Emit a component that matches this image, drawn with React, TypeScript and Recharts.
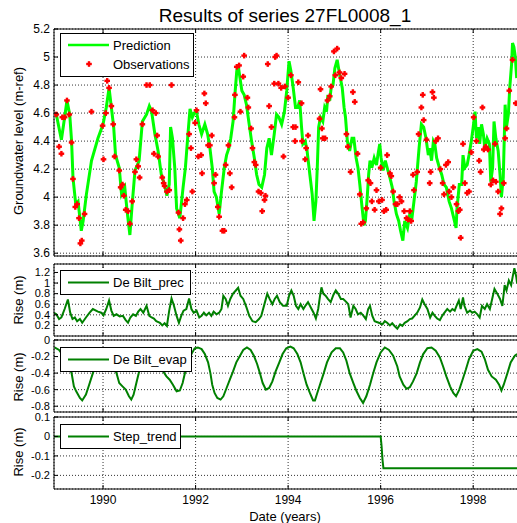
import React from 'react';
import { ComposedChart, Line, Scatter, XAxis, YAxis, CartesianGrid } from 'recharts';

const FONT = '"Liberation Sans", Arial, Helvetica, sans-serif';

// ---------- data ----------
const yearTicks = [1990, 1992, 1994, 1996, 1998];
const xDomain: [number, number] = [1988.94, 1998.99];

const headTicks = [3.6, 3.8, 4, 4.2, 4.4, 4.6, 4.8, 5, 5.2];
const precTicks = [0.2, 0.4, 0.6, 0.8, 1, 1.2];
const evapTicks = [-0.8, -0.6, -0.4, -0.2, 0];
const stepTicks = [-0.2, -0.1, 0, 0.1];

const prediction: [number, number][] = [
  [1988.99,4.59],[1989.10,4.41],[1989.17,4.57],[1989.22,4.69],[1989.28,4.59],[1989.32,4.40],[1989.35,4.14],[1989.41,3.95],[1989.46,3.97],[1989.53,3.76],[1989.57,3.83],[1989.64,4.02],[1989.75,4.26],[1989.89,4.42],[1990.00,4.52],[1990.07,4.64],[1990.13,4.78],[1990.18,4.64],[1990.23,4.50],[1990.27,4.30],[1990.35,4.21],[1990.40,4.02],[1990.47,4.07],[1990.52,3.90],[1990.58,3.73],[1990.63,3.95],[1990.69,4.19],[1990.78,4.26],[1990.85,4.54],[1990.94,4.59],[1991.00,4.65],[1991.05,4.61],[1991.12,4.45],[1991.19,4.33],[1991.26,4.16],[1991.33,4.09],[1991.38,4.01],[1991.43,4.09],[1991.46,4.50],[1991.50,4.42],[1991.55,4.21],
  [1991.59,3.92],[1991.66,3.85],[1991.73,4.07],[1991.78,4.21],[1991.84,4.47],[1991.88,4.63],[1991.93,4.57],[1991.97,4.60],[1992.02,4.61],[1992.07,4.52],[1992.13,4.45],[1992.20,4.52],[1992.26,4.45],[1992.31,4.35],[1992.36,4.21],[1992.40,4.04],[1992.45,4.00],[1992.51,3.88],[1992.56,4.04],[1992.62,4.21],[1992.67,4.30],[1992.72,4.35],[1992.76,4.42],[1992.81,4.54],[1992.85,4.73],[1992.89,4.90],[1992.92,4.94],[1992.96,4.85],[1993.00,4.76],[1993.05,4.73],[1993.10,4.66],[1993.15,4.54],[1993.21,4.40],[1993.27,4.28],[1993.32,4.16],[1993.37,4.09],[1993.43,4.07],[1993.49,4.16],[1993.54,4.35],[1993.59,4.42],[1993.64,4.30],[1993.70,4.45],[1993.75,4.59],[1993.80,4.57],[1993.86,4.52],[1993.92,4.61],[1993.97,4.76],[1994.02,4.97],[1994.06,4.90],[1994.11,4.78],[1994.16,4.64],
  [1994.21,4.64],[1994.25,4.69],[1994.29,4.50],[1994.32,4.38],[1994.37,4.40],[1994.41,4.33],[1994.47,4.16],[1994.52,4.02],[1994.56,3.83],[1994.60,3.97],[1994.63,4.21],[1994.66,4.50],[1994.70,4.57],[1994.75,4.54],[1994.79,4.64],[1994.83,4.61],[1994.86,4.73],[1994.90,4.69],[1994.93,4.78],[1994.97,4.80],[1995.01,4.92],[1995.06,4.98],[1995.09,4.92],[1995.14,4.83],[1995.17,4.78],[1995.21,4.64],[1995.24,4.57],[1995.28,4.40],[1995.33,4.33],[1995.38,4.42],[1995.42,4.42],[1995.47,4.28],[1995.51,4.21],[1995.55,4.09],[1995.60,3.92],[1995.64,3.80],[1995.67,3.83],[1995.71,4.00],[1995.74,4.16],[1995.77,4.26],[1995.81,4.21],[1995.86,4.28],[1995.91,4.23],[1995.94,4.30],[1995.98,4.38],[1996.01,4.28],[1996.05,4.19],[1996.10,4.26],[1996.14,4.21],[1996.20,4.14],[1996.25,4.07],[1996.29,3.97],[1996.34,3.88],[1996.39,3.83],[1996.43,3.76],[1996.48,3.69],[1996.52,3.83],[1996.58,3.78],[1996.63,3.88],[1996.68,3.86],[1996.72,3.97],[1996.77,4.11],
  [1996.83,4.35],[1996.88,4.52],[1996.93,4.50],[1996.98,4.42],[1997.03,4.30],[1997.06,4.35],[1997.10,4.26],[1997.14,4.40],[1997.17,4.38],[1997.21,4.28],[1997.27,4.21],[1997.32,4.16],[1997.37,4.09],[1997.42,4.07],[1997.48,3.97],[1997.53,3.92],[1997.58,3.85],[1997.63,3.78],[1997.65,3.92],[1997.70,4.09],[1997.75,4.09],[1997.78,4.30],[1997.82,4.21],[1997.87,4.23],[1997.91,4.30],[1997.96,4.40],[1998.00,4.50],[1998.04,4.61],[1998.07,4.42],[1998.11,4.50],[1998.14,4.38],[1998.18,4.52],[1998.22,4.45],[1998.25,4.35],[1998.30,4.42],[1998.35,4.38],[1998.38,4.11],[1998.42,4.21],[1998.45,4.54],[1998.49,4.42],[1998.54,4.33],[1998.58,4.16],[1998.61,4.00],[1998.65,4.14],[1998.69,4.66],[1998.72,4.50],[1998.76,4.59],[1998.79,4.78],[1998.83,4.95],[1998.85,5.10],[1998.88,5.07],[1998.91,5.00],[1998.94,4.85],
];

const observations: [number, number][] = [
  [1988.99,4.59],[1989.05,4.36],[1989.10,4.31],[1989.12,4.57],[1989.17,4.57],[1989.22,4.69],[1989.27,4.59],[1989.32,4.39],[1989.35,4.13],[1989.40,3.93],[1989.44,3.95],[1989.48,3.85],[1989.51,3.67],[1989.54,3.69],[1989.60,3.88],[1989.75,4.61],[1989.99,4.51],[1990.01,4.27],[1990.06,4.60],[1990.09,4.83],[1990.13,4.78],[1990.18,4.65],[1990.22,4.52],[1990.25,4.29],[1990.35,4.19],[1990.38,4.07],[1990.42,4.09],[1990.45,4.01],[1990.49,3.91],[1990.54,3.90],[1990.58,3.81],[1990.63,3.97],[1990.69,4.18],[1990.72,4.27],[1990.76,4.22],[1990.79,4.14],[1990.85,4.52],[1990.94,4.80],[1991.01,4.80],[1991.07,4.62],[1991.10,4.31],[1991.14,4.60],[1991.17,4.44],[1991.19,4.29],[1991.28,4.14],[1991.31,4.10],[1991.33,4.08],[1991.38,4.04],[1991.43,4.05],[1991.48,4.80],
  [1991.63,3.89],[1991.65,3.77],[1991.68,3.69],[1991.73,3.85],[1991.77,3.95],[1991.81,3.98],[1991.86,4.45],[1991.90,4.35],[1991.93,4.04],[1991.99,4.53],[1992.02,4.62],[1992.06,4.29],[1992.12,4.30],[1992.14,4.17],[1992.19,4.74],[1992.22,4.67],[1992.27,4.37],[1992.31,4.37],[1992.35,4.44],[1992.40,4.10],[1992.43,4.16],[1992.48,3.93],[1992.51,3.86],[1992.58,3.76],[1992.62,3.76],[1992.65,4.23],[1992.71,4.37],[1992.74,4.17],[1992.78,4.07],[1992.84,4.57],[1992.85,4.73],[1992.89,4.93],[1992.94,4.94],[1992.97,4.61],[1993.03,4.86],[1993.05,5.01],[1993.12,4.71],[1993.14,4.64],[1993.20,4.49],[1993.23,4.35],[1993.27,4.25],[1993.30,4.23],[1993.36,4.04],[1993.41,4.03],[1993.44,3.90],[1993.49,3.98],[1993.51,4.01],[1993.56,4.95],[1993.59,4.65],[1993.64,4.50],[1993.70,4.81],[1993.72,5.00],[1993.75,5.01],[1993.79,4.81],[1993.85,4.78],[1993.90,4.29],[1993.93,4.79],[1994.00,4.71],[1994.06,4.87],[1994.11,4.50],[1994.15,4.40],[1994.16,4.50],[1994.22,4.82],
  [1994.29,4.67],[1994.30,4.40],[1994.37,4.27],[1994.39,4.35],[1994.43,4.44],[1994.68,4.56],[1994.70,4.77],[1994.73,4.49],[1994.75,4.42],[1994.80,4.42],[1994.85,4.69],[1994.90,4.72],[1994.93,4.79],[1994.99,5.04],[1995.02,4.87],[1995.06,5.06],[1995.11,4.89],[1995.15,4.85],[1995.22,4.88],[1995.26,4.45],[1995.29,4.36],[1995.35,4.18],[1995.40,4.75],[1995.44,4.68],[1995.50,4.31],[1995.55,4.02],[1995.58,3.81],[1995.62,3.82],[1995.69,3.92],[1995.73,4.12],[1995.78,4.10],[1995.81,3.97],[1995.87,3.91],[1995.91,4.05],[1995.96,3.97],[1996.00,4.21],[1996.03,3.98],[1996.07,3.90],[1996.12,3.91],[1996.14,4.30],[1996.20,4.17],[1996.23,4.15],[1996.27,4.04],[1996.32,3.95],[1996.36,3.95],[1996.41,4.00],[1996.45,3.97],[1996.51,3.90],[1996.56,3.85],[1996.59,3.84],[1996.63,3.90],[1996.66,3.83],[1996.70,4.16],[1996.72,4.05],[1996.79,4.18],[1996.82,4.45],
  [1996.88,4.64],[1996.91,4.73],[1996.93,4.55],[1996.99,4.41],[1997.06,4.10],[1997.08,4.18],[1997.12,4.75],[1997.15,4.71],[1997.19,4.40],[1997.24,4.42],[1997.29,4.20],[1997.34,4.10],[1997.37,4.02],[1997.41,4.23],[1997.46,4.25],[1997.48,4.04],[1997.53,4.00],[1997.57,4.07],[1997.64,3.95],[1997.68,3.90],[1997.71,3.91],[1997.73,3.71],[1997.78,4.38],[1997.82,4.10],[1997.87,4.03],[1997.91,4.04],[1997.96,4.32],[1998.01,4.57],[1998.07,4.40],[1998.13,4.26],[1998.16,4.18],[1998.20,4.64],[1998.23,4.34],[1998.27,4.36],[1998.32,4.34],[1998.38,4.09],[1998.43,4.12],[1998.47,4.38],[1998.49,4.11],[1998.54,4.04],[1998.58,3.88],[1998.61,3.92],[1998.66,4.10],[1998.69,4.42],[1998.72,4.49],[1998.78,4.76],[1998.85,4.98],[1998.92,4.67],
];

const precipitation: [number, number][] = [
  [1988.94,0.44],[1988.99,0.41],[1989.05,0.32],[1989.10,0.35],[1989.17,0.51],[1989.24,0.69],[1989.29,0.44],[1989.34,0.32],[1989.39,0.35],[1989.44,0.28],[1989.50,0.32],[1989.55,0.25],[1989.63,0.35],[1989.71,0.44],[1989.78,0.51],[1989.89,0.46],[1989.96,0.44],[1990.01,0.39],[1990.07,0.51],[1990.13,0.67],[1990.18,0.48],[1990.23,0.38],[1990.29,0.41],[1990.36,0.37],[1990.43,0.38],[1990.49,0.30],[1990.54,0.25],[1990.59,0.35],[1990.65,0.41],[1990.71,0.38],[1990.76,0.46],[1990.81,0.51],[1990.87,0.44],[1990.94,0.57],[1991.00,0.38],[1991.05,0.35],[1991.10,0.33],[1991.15,0.28],[1991.23,0.25],[1991.28,0.20],[1991.33,0.24],[1991.38,0.19],[1991.43,0.48],[1991.48,0.71],[1991.53,0.58],[1991.59,0.38],[1991.64,0.25],[1991.69,0.38],[1991.74,0.48],[1991.80,0.51],[1991.86,0.71],[1991.91,0.51],[1991.96,0.44],[1992.02,0.48],[1992.08,0.35],[1992.13,0.38],[1992.18,0.44],[1992.23,0.39],[1992.29,0.44],[1992.34,0.38],[1992.39,0.46],[1992.45,0.41],[1992.51,0.44],[1992.56,0.51],[1992.60,0.76],[1992.65,0.70],[1992.70,0.57],[1992.75,0.70],[1992.81,0.80],[1992.87,0.86],[1992.92,0.91],[1992.97,0.76],[1993.03,0.70],[1993.10,0.54],[1993.16,0.38],[1993.23,0.28],[1993.30,0.26],[1993.37,0.32],[1993.42,0.38],[1993.50,0.64],[1993.55,0.80],[1993.60,0.70],[1993.66,0.60],[1993.71,0.70],[1993.76,0.76],[1993.82,0.64],[1993.89,0.57],
  [1993.97,0.57],[1994.02,0.76],[1994.07,0.86],[1994.12,0.76],[1994.17,0.57],[1994.22,0.51],[1994.27,0.60],[1994.33,0.51],[1994.38,0.58],[1994.43,0.64],[1994.49,0.54],[1994.55,0.44],[1994.60,0.33],[1994.65,0.51],[1994.69,0.76],[1994.72,0.92],[1994.76,0.80],[1994.81,0.76],[1994.86,0.70],[1994.92,0.64],[1994.98,0.78],[1995.03,0.86],[1995.08,0.80],[1995.14,0.70],[1995.19,0.70],[1995.25,0.65],[1995.30,0.60],[1995.35,0.35],[1995.41,0.57],[1995.46,0.51],[1995.51,0.41],[1995.57,0.44],[1995.63,0.38],[1995.68,0.32],[1995.73,0.51],[1995.77,0.57],[1995.82,0.38],[1995.87,0.28],[1995.93,0.26],[1995.99,0.24],[1996.04,0.22],[1996.09,0.28],[1996.14,0.25],[1996.20,0.20],[1996.25,0.24],[1996.30,0.19],[1996.36,0.14],[1996.42,0.22],[1996.47,0.19],[1996.52,0.25],[1996.58,0.28],[1996.63,0.32],[1996.68,0.33],[1996.73,0.38],[1996.79,0.44],[1996.85,0.54],[1996.90,0.69],[1996.95,0.60],[1997.01,0.51],[1997.07,0.35],[1997.12,0.44],[1997.17,0.38],[1997.22,0.33],[1997.28,0.30],[1997.33,0.38],[1997.38,0.44],[1997.44,0.51],[1997.50,0.46],[1997.55,0.51],[1997.60,0.48],[1997.64,0.57],[1997.69,0.67],[1997.73,0.51],[1997.78,0.73],[1997.81,0.57],[1997.87,0.44],[1997.93,0.48],[1997.98,0.44],[1998.03,0.46],[1998.09,0.41],[1998.14,0.35],[1998.19,0.57],[1998.25,0.51],[1998.30,0.60],[1998.36,0.51],[1998.41,0.70],[1998.46,0.89],[1998.52,0.80],[1998.58,0.70],[1998.63,0.57],[1998.68,0.96],[1998.72,0.86],[1998.77,1.05],[1998.82,0.96],[1998.86,1.15],[1998.89,1.28],[1998.93,1.12],[1998.95,0.99],
];

const evaporation: [number, number][] = [
  [1988.95,-0.09],[1989.05,-0.12],[1989.15,-0.20],[1989.25,-0.30],[1989.32,-0.40],[1989.37,-0.56],[1989.42,-0.62],[1989.50,-0.70],[1989.55,-0.73],[1989.63,-0.66],[1989.70,-0.54],[1989.78,-0.40],[1989.86,-0.27],[1989.93,-0.17],[1990.00,-0.12],[1990.10,-0.14],[1990.20,-0.26],[1990.29,-0.40],[1990.35,-0.52],[1990.42,-0.56],[1990.49,-0.60],[1990.56,-0.68],[1990.61,-0.72],[1990.66,-0.66],[1990.72,-0.52],[1990.78,-0.38],[1990.86,-0.25],[1990.95,-0.14],[1991.03,-0.12],[1991.12,-0.20],[1991.20,-0.30],[1991.30,-0.38],[1991.37,-0.44],[1991.44,-0.48],[1991.51,-0.54],[1991.59,-0.62],[1991.66,-0.61],[1991.72,-0.52],[1991.77,-0.40],[1991.82,-0.32],[1991.91,-0.17],[1991.98,-0.10],[1992.05,-0.09],[1992.13,-0.11],[1992.20,-0.17],[1992.27,-0.27],[1992.32,-0.40],[1992.36,-0.54],[1992.41,-0.64],[1992.47,-0.70],[1992.54,-0.72],[1992.60,-0.68],[1992.67,-0.58],[1992.74,-0.48],[1992.81,-0.38],[1992.88,-0.27],[1992.96,-0.19],[1993.03,-0.12],[1993.11,-0.09],[1993.19,-0.12],[1993.26,-0.19],[1993.33,-0.29],[1993.39,-0.40],[1993.45,-0.52],[1993.52,-0.60],[1993.59,-0.58],[1993.66,-0.50],[1993.73,-0.38],[1993.81,-0.27],[1993.88,-0.17],[1993.96,-0.10],[1994.05,-0.08],[1994.12,-0.10],[1994.20,-0.17],[1994.27,-0.27],[1994.34,-0.42],[1994.40,-0.54],[1994.47,-0.64],[1994.54,-0.73],[1994.58,-0.73],[1994.63,-0.64],[1994.70,-0.52],[1994.77,-0.40],[1994.84,-0.27],[1994.94,-0.15],[1995.03,-0.10],[1995.12,-0.10],[1995.19,-0.15],[1995.26,-0.25],[1995.33,-0.40],[1995.41,-0.52],[1995.48,-0.62],[1995.55,-0.70],[1995.62,-0.76],[1995.69,-0.68],[1995.77,-0.54],[1995.84,-0.40],[1995.91,-0.27],[1996.00,-0.15],[1996.09,-0.09],[1996.18,-0.12],[1996.27,-0.19],[1996.36,-0.32],[1996.41,-0.44],[1996.49,-0.54],[1996.56,-0.59],[1996.63,-0.57],[1996.70,-0.50],[1996.78,-0.40],[1996.85,-0.27],[1996.92,-0.17],[1997.01,-0.10],[1997.10,-0.09],[1997.19,-0.13],[1997.28,-0.21],[1997.35,-0.32],[1997.42,-0.44],[1997.50,-0.56],[1997.57,-0.64],[1997.63,-0.68],[1997.70,-0.60],[1997.77,-0.48],[1997.84,-0.36],[1997.91,-0.23],[1998.00,-0.13],[1998.09,-0.11],[1998.18,-0.14],[1998.25,-0.23],[1998.32,-0.36],[1998.40,-0.44],[1998.49,-0.48],[1998.56,-0.54],[1998.61,-0.61],[1998.66,-0.54],[1998.74,-0.40],[1998.81,-0.27],[1998.90,-0.19],[1998.95,-0.17],
];

const stepTrend: [number, number][] = [
  [1988.94,0],[1996.00,0],[1996.02,-0.05],[1996.04,-0.12],[1996.06,-0.164],[1998.99,-0.164],
];

const toRows = (pts: [number, number][]) => pts.map(([year, value]) => ({ year, value }));

// ---------- styling helpers ----------
const BRIGHT = '#00ff00';
const DARK = '#008000';

const makeXTick = (dir: number, showLabel: boolean) => (props: any) => {
  const { x, y, payload } = props;
  return (
    <g>
      <line x1={x} x2={x} y1={y} y2={y + dir * 4} stroke="#000" strokeWidth={1} />
      {showLabel ? (
        <text x={x} y={y + 15} textAnchor="middle" fontSize={12} fontFamily={FONT} fill="#000">
          {String(payload.value)}
        </text>
      ) : null}
    </g>
  );
};

const makeYTick = (fontSize: number) => (props: any) => {
  const { x, y, payload } = props;
  return (
    <g>
      <line x1={x} x2={x + 4} y1={y} y2={y} stroke="#000" strokeWidth={1} />
      <text x={x - 4} y={y} dy="0.35em" textAnchor="end" fontSize={fontSize} fontFamily={FONT} fill="#000">
        {String(payload.value)}
      </text>
    </g>
  );
};

const ObsMarker = (props: any) => {
  const { cx, cy } = props;
  if (cx == null || cy == null) return null;
  return (
    <g fill="#ff0000">
      <rect x={cx - 2.8} y={cy - 1.2} width={5.6} height={2.4} />
      <rect x={cx - 1.2} y={cy - 2.8} width={2.4} height={5.6} />
    </g>
  );
};

type PanelProps = {
  top: number;
  height: number;
  topAxisH: number;
  bottomAxisH: number;
  data: { year: number; value: number }[];
  yDomain: [number, number];
  yTicks: number[];
  tickFont?: number;
  showXLabels?: boolean;
  children: React.ReactNode;
};

function Panel({ top, height, topAxisH, bottomAxisH, data, yDomain, yTicks, tickFont, showXLabels, children }: PanelProps) {
  return (
    <div style={{ position: 'absolute', left: 0, top, width: 520, height }}>
      <ComposedChart width={520} height={height} data={data} margin={{ top: 0, right: 1, bottom: 0, left: 0 }}>
        <CartesianGrid stroke="#333" strokeDasharray="1 2" strokeWidth={1} />
        <XAxis
          dataKey="year"
          type="number"
          domain={xDomain}
          ticks={yearTicks}
          allowDataOverflow
          height={bottomAxisH}
          tickSize={0}
          tickMargin={0}
          tickLine={false}
          axisLine={{ stroke: '#000' }}
          tick={makeXTick(-1, !!showXLabels)}
          interval={0}
        />
        <XAxis
          xAxisId="top"
          orientation="top"
          dataKey="year"
          type="number"
          domain={xDomain}
          ticks={yearTicks}
          allowDataOverflow
          height={topAxisH}
          tickSize={0}
          tickMargin={0}
          tickLine={false}
          axisLine={{ stroke: '#000' }}
          tick={makeXTick(1, false)}
          interval={0}
        />
        <YAxis
          dataKey="value"
          type="number"
          domain={yDomain}
          ticks={yTicks}
          allowDataOverflow
          width={54}
          tickSize={0}
          tickMargin={0}
          tickLine={false}
          axisLine={{ stroke: '#000' }}
          tick={makeYTick(tickFont || 12)}
          interval={0}
        />
        {children}
      </ComposedChart>
    </div>
  );
}

function LegendLine({ x, y, color, width }: { x: number; y: number; color: string; width: number }) {
  return <line x1={x} x2={x + 41} y1={y} y2={y} stroke={color} strokeWidth={width} />;
}

export default function App() {
  const predRows = toRows(prediction);
  const obsRows = toRows(observations);
  const precRows = toRows(precipitation);
  const evapRows = toRows(evaporation);
  const stepRows = toRows(stepTrend);

  return (
    <div style={{ position: 'absolute', left: 0, top: 0, width: 517, height: 523, overflow: 'hidden', background: '#fff' }}>
      <Panel top={0} height={262} topAxisH={29} bottomAxisH={6} data={predRows} yDomain={[3.58, 5.2]} yTicks={headTicks}>
        <Line dataKey="value" stroke={BRIGHT} strokeWidth={3} dot={false} isAnimationActive={false} />
        <Scatter data={obsRows} dataKey="value" shape={<ObsMarker />} isAnimationActive={false} />
      </Panel>
      <Panel top={258} height={84} topAxisH={6} bottomAxisH={6} data={precRows} yDomain={[0, 1.36]} yTicks={precTicks} tickFont={11}>
        <Line dataKey="value" stroke={DARK} strokeWidth={2} dot={false} isAnimationActive={false} />
      </Panel>
      <Panel top={332} height={86} topAxisH={8} bottomAxisH={6} data={evapRows} yDomain={[-0.87, 0]} yTicks={evapTicks} tickFont={11}>
        <Line dataKey="value" stroke={DARK} strokeWidth={2} dot={false} isAnimationActive={false} />
      </Panel>
      <Panel top={405} height={118} topAxisH={12} bottomAxisH={34} data={stepRows} yDomain={[-0.27, 0.1]} yTicks={stepTicks} tickFont={11} showXLabels>
        <Line dataKey="value" stroke={DARK} strokeWidth={2} dot={false} isAnimationActive={false} />
      </Panel>

      <svg width={517} height={523} style={{ position: 'absolute', left: 0, top: 0, pointerEvents: 'none' }}>
        <text x={285} y={22} textAnchor="middle" fontSize={19} fontFamily={FONT} fill="#000">
          Results of series 27FL0008_1
        </text>

        <text x={18} y={141} transform="rotate(-90 18 141)" textAnchor="middle" dy="0.35em" fontSize={13} fontFamily={FONT} fill="#000">
          Groundwater level (m-ref)
        </text>
        <text x={18} y={300} transform="rotate(-90 18 300)" textAnchor="middle" dy="0.35em" fontSize={13} fontFamily={FONT} fill="#000">
          Rise (m)
        </text>
        <text x={18} y={377} transform="rotate(-90 18 377)" textAnchor="middle" dy="0.35em" fontSize={13} fontFamily={FONT} fill="#000">
          Rise (m)
        </text>
        <text x={18} y={452} transform="rotate(-90 18 452)" textAnchor="middle" dy="0.35em" fontSize={13} fontFamily={FONT} fill="#000">
          Rise (m)
        </text>
        <text x={285} y={521} textAnchor="middle" fontSize={13} fontFamily={FONT} fill="#000">
          Date (years)
        </text>

        {/* legend panel 1 */}
        <rect x={60.5} y={33.5} width={133} height={43} fill="#fff" stroke="#000" strokeWidth={1} />
        <LegendLine x={68} y={45} color={BRIGHT} width={2.5} />
        <text x={113} y={45} dy="0.35em" fontSize={13} fontFamily={FONT} fill="#000">Prediction</text>
        <ObsMarker cx={89} cy={64} />
        <text x={113} y={64} dy="0.35em" fontSize={13} fontFamily={FONT} fill="#000">Observations</text>

        {/* legend panel 2 */}
        <rect x={60.5} y={270.5} width={130} height={24} fill="#fff" stroke="#000" strokeWidth={1} />
        <LegendLine x={68} y={282.5} color={DARK} width={2} />
        <text x={113} y={282.5} dy="0.35em" fontSize={13} fontFamily={FONT} fill="#000">De Bilt_prec</text>

        {/* legend panel 3 */}
        <rect x={60.5} y={347.5} width={131} height={24} fill="#fff" stroke="#000" strokeWidth={1} />
        <LegendLine x={68} y={359.5} color={DARK} width={2} />
        <text x={113} y={359.5} dy="0.35em" fontSize={13} fontFamily={FONT} fill="#000">De Bilt_evap</text>

        {/* legend panel 4 */}
        <rect x={60.5} y={424.5} width={120} height={24} fill="#fff" stroke="#000" strokeWidth={1} />
        <LegendLine x={68} y={436.5} color={DARK} width={2} />
        <text x={113} y={436.5} dy="0.35em" fontSize={13} fontFamily={FONT} fill="#000">Step_trend</text>
      </svg>
    </div>
  );
}
